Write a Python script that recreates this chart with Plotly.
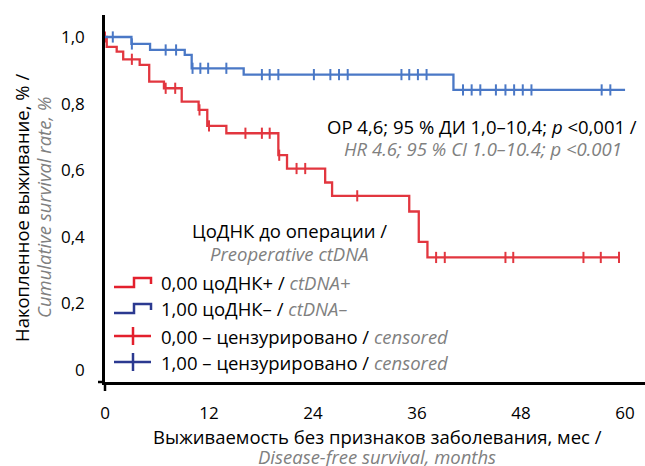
import numpy as np
import plotly.graph_objects as go

# ---------------- data ----------------
red_step_t = [0, 0.2, 1.35, 2.1, 4.0, 5.1, 6.8, 8.85, 10.8, 11.8, 14.0, 20.0, 21.0, 25.4, 26.2, 35.1, 36.2, 37.2]
red_step_s = [1.0, 0.970, 0.956, 0.933, 0.916, 0.866, 0.846, 0.806, 0.781, 0.733, 0.711, 0.645, 0.605, 0.563, 0.523, 0.476, 0.385, 0.338]
red_end = 59.3
red_cens_t = [0, 3.1, 7.0, 8.1, 10.9, 12.0, 16.2, 18.1, 19.0, 20.1, 22.1, 23.1, 29.1,
              38.2, 39.2, 46.2, 47.1, 55.2, 57.2, 59.3]

blue_step_t = [0, 3.05, 5.2, 9.2, 10.0, 16.0, 40.2]
blue_step_s = [1.0, 0.979, 0.961, 0.946, 0.906, 0.887, 0.841]
blue_end = 60.0
blue_cens_t = [0.9, 3.1, 7.0, 8.2, 10.1, 11.0, 11.9, 14.0, 18.1, 19.0, 20.0, 24.1, 26.0, 27.0, 28.0,
               34.2, 35.1, 36.1, 37.1, 41.3, 42.3, 43.3, 45.1, 46.2, 47.2, 48.2, 49.2, 57.3, 58.3]

x_ticks = [0, 12, 24, 36, 48, 60]
y_ticks = [0, 0.2, 0.4, 0.6, 0.8, 1.0]
y_ticktext = ["0", "0,2", "0,4", "0,6", "0,8", "1,0"]

# ---------------- styling ----------------
RED = "#e2363f"
BLUE = "#4a78c6"
LEG_RED = "#e3202d"
LEG_BLUE = "#2b3990"
GRAY = "#808080"
FONT = "Open Sans"
FS = 18.5

W, H = 645, 466
L, R, T, B = 105, 645, 15, 382  # plot area in pixels


def P(px, py):
    return (px - L) / (R - L), (B - py) / (B - T)


def surv_at(ts, ss, c):
    i = np.searchsorted(np.array(ts), c, side="right") - 1
    return ss[i]


fig = go.Figure()

for ts, ss, end, cens, col in [
    (red_step_t, red_step_s, red_end, red_cens_t, RED),
    (blue_step_t, blue_step_s, blue_end, blue_cens_t, BLUE),
]:
    fig.add_trace(go.Scatter(
        x=list(ts) + [end], y=list(ss) + [ss[-1]], mode="lines",
        line=dict(color=col, width=2.3, shape="hv"), showlegend=False, hoverinfo="skip"))
    fig.add_trace(go.Scatter(
        x=cens, y=[surv_at(ts, ss, c) for c in cens], mode="markers",
        marker=dict(symbol="line-ns", size=8, line=dict(width=2, color=col)),
        showlegend=False, hoverinfo="skip"))

shapes = []
annotations = []

# axis extensions near origin
x0, y0 = P(98, 382)
x1, y1 = P(105, 382)
shapes.append(dict(type="line", xref="paper", yref="paper", x0=x0, y0=y0, x1=x1, y1=y1,
                   line=dict(color="black", width=2.5)))
x0, y0 = P(105, 382)
x1, y1 = P(105, 391)
shapes.append(dict(type="line", xref="paper", yref="paper", x0=x0, y0=y0, x1=x1, y1=y1,
                   line=dict(color="black", width=2.5)))

# manual legend
rows = [282, 308, 336, 362]
labels = [
    f"0,00 цоДНК+ / <span style='color:{GRAY}'><i>ctDNA+</i></span>",
    f"1,00 цоДНК– / <span style='color:{GRAY}'><i>ctDNA–</i></span>",
    f"0,00 – цензурировано / <span style='color:{GRAY}'><i>censored</i></span>",
    f"1,00 – цензурировано / <span style='color:{GRAY}'><i>censored</i></span>",
]
cols = [LEG_RED, LEG_BLUE, LEG_RED, LEG_BLUE]
for k, (ry, lab, c) in enumerate(zip(rows, labels, cols)):
    if k < 2:
        pts = [(114, ry + 5), (134, ry + 5), (134, ry - 4), (151, ry - 4), (151, ry + 2)]
        path = "M " + " L ".join(f"{P(a, b)[0]},{P(a, b)[1]}" for a, b in pts)
        shapes.append(dict(type="path", xref="paper", yref="paper", path=path,
                           line=dict(color=c, width=2.5)))
    else:
        a0, b0 = P(114, ry)
        a1, b1 = P(151, ry)
        shapes.append(dict(type="line", xref="paper", yref="paper", x0=a0, y0=b0, x1=a1, y1=b1,
                           line=dict(color=c, width=2.5)))
        a0, b0 = P(133, ry - 9)
        a1, b1 = P(133, ry + 9)
        shapes.append(dict(type="line", xref="paper", yref="paper", x0=a0, y0=b0, x1=a1, y1=b1,
                           line=dict(color=c, width=2.5)))
    ax, ay = P(160, ry)
    annotations.append(dict(xref="paper", yref="paper", x=ax, y=ay, text=lab, showarrow=False,
                            xanchor="left", yanchor="middle", borderpad=0,
                            font=dict(size=FS, color="black", family=FONT)))


def text(px, py, t, size=FS, color="black", angle=0, xanchor="center"):
    ax, ay = P(px, py)
    annotations.append(dict(xref="paper", yref="paper", x=ax, y=ay, text=t, showarrow=False,
                            xanchor=xanchor, yanchor="middle", textangle=angle, borderpad=0,
                            font=dict(size=size, color=color, family=FONT)))


text(289, 230, "ЦоДНК до операции /")
text(289, 254, "<i>Preoperative ctDNA</i>", color=GRAY)
text(482, 127, "ОР 4,6; 95 % ДИ 1,0–10,4; <i>p</i> &lt;0,001 /")
text(483, 148, "<i>HR 4.6; 95 % CI 1.0–10.4; p &lt;0.001</i>", color=GRAY)
text(377, 436, "Выживаемость без признаков заболевания, мес /")
text(377, 456, "<i>Disease-free survival, months</i>", color=GRAY)
text(21, 208, "Накопленное выживание, % /", angle=-90)
text(44, 207, "<i>Cumulative survival rate, %</i>", color=GRAY, angle=-90)

fig.update_layout(
    width=W, height=H,
    margin=dict(l=L, r=W - R, t=T, b=H - B),
    paper_bgcolor="white", plot_bgcolor="white",
    font=dict(family=FONT, size=FS, color="black"),
    shapes=shapes, annotations=annotations,
    xaxis=dict(range=[0, 62.3], tickvals=x_ticks, showline=True, linecolor="black", linewidth=2.5,
               showgrid=False, zeroline=False, ticks="", ticklabelstandoff=14,
               tickfont=dict(size=17, color="black", family=FONT)),
    yaxis=dict(range=[-0.036, 1.066], tickvals=y_ticks, ticktext=y_ticktext, showline=True,
               linecolor="black", linewidth=2.5, showgrid=False, zeroline=False, ticks="",
               ticklabelstandoff=14, tickfont=dict(size=17, color="black", family=FONT)),
)

fig.write_html("out.html", config={"displayModeBar": False},
               post_script="document.body.style.margin='0px';document.body.style.overflow='hidden';")
